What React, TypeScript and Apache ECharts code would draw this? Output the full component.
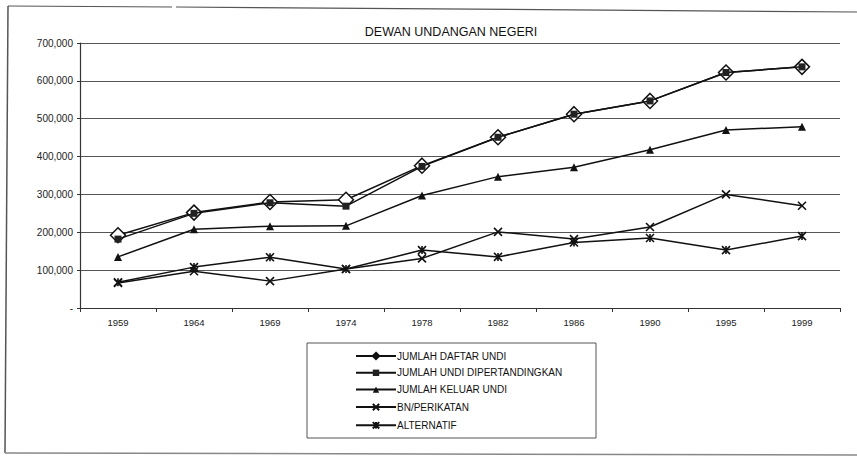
import React, { useEffect, useRef } from "react";
import * as echarts from "echarts";

const years = ["1959", "1964", "1969", "1974", "1978", "1982", "1986", "1990", "1995", "1999"];
const jumlahDaftarUndi = [192000, 252000, 280000, 286000, 376000, 451000, 512000, 547000, 622000, 637000];
const jumlahUndiDipertandingkan = [182000, 250000, 278000, 269000, 374000, 451000, 512000, 547000, 622000, 637000];
const jumlahKeluarUndi = [135000, 208000, 216000, 217000, 297000, 347000, 372000, 418000, 470000, 479000];
const bnPerikatan = [66000, 97000, 71000, 103000, 131000, 201000, 182000, 214000, 300000, 270000];
const alternatif = [68000, 108000, 134000, 103000, 153000, 135000, 173000, 185000, 153000, 190000];

const seriesNames = [
  "JUMLAH DAFTAR UNDI",
  "JUMLAH UNDI DIPERTANDINGKAN",
  "JUMLAH KELUAR UNDI",
  "BN/PERIKATAN",
  "ALTERNATIF",
];

const FONT = "Liberation Sans, Arial, sans-serif";
const X_SYMBOL = "path://M0,0L10,10M10,0L0,10";
const STAR_SYMBOL = "path://M0,0L10,10M10,0L0,10M5,0L5,10";

export default function App() {
  const ref = useRef<HTMLDivElement>(null);

  useEffect(() => {
    if (!ref.current) return;
    const chart = echarts.init(ref.current, null, { renderer: "svg" });
    const lineStyle = { color: "#111", width: 1.5 };
    const mk = (name: string, data: number[], symbol: string, size: number, itemStyle: any, z: number) => ({
      name,
      type: "line",
      data,
      symbol,
      symbolSize: size,
      showAllSymbol: true,
      lineStyle,
      itemStyle,
      z,
    });
    chart.setOption({
      animation: false,
      backgroundColor: "#ffffff",
      title: {
        text: "DEWAN UNDANGAN NEGERI",
        left: 446,
        top: 20,
        textAlign: "center",
        textStyle: { fontFamily: FONT, fontSize: 12.5, fontWeight: "normal", color: "#111" },
      },
      grid: { left: 80, right: 17, top: 43, bottom: 148 },
      xAxis: {
        type: "category",
        data: years,
        boundaryGap: true,
        axisLine: { lineStyle: { color: "#333", width: 1.2 } },
        axisTick: { show: true, alignWithLabel: false, length: 4, lineStyle: { color: "#333" } },
        axisLabel: { fontFamily: FONT, fontSize: 9.5, color: "#222", margin: 9 },
      },
      yAxis: {
        type: "value",
        min: 0,
        max: 700000,
        interval: 100000,
        axisLine: { show: true, lineStyle: { color: "#333", width: 1.2 } },
        axisTick: { show: true, length: 3, lineStyle: { color: "#333" } },
        axisLabel: {
          fontFamily: FONT,
          fontSize: 10,
          color: "#222",
          margin: 7,
          formatter: (v: number) => (v === 0 ? "-" : v.toLocaleString("en-US")),
        },
        splitLine: { show: true, lineStyle: { color: "#555", width: 1 } },
      },
      legend: {
        orient: "vertical",
        left: 350,
        top: 346,
        itemWidth: 40,
        itemHeight: 8,
        itemGap: 6.8,
        data: [
          { name: seriesNames[0], itemStyle: { color: "#111", borderColor: "#111" } },
          seriesNames[1],
          seriesNames[2],
          seriesNames[3],
          seriesNames[4],
        ],
        textStyle: { fontFamily: FONT, fontSize: 10, color: "#111", padding: [0, 0, 0, -4] },
      },
      graphic: [
        {
          type: "rect",
          shape: { x: 307, y: 343, width: 289, height: 95 },
          style: { fill: "none", stroke: "#555", lineWidth: 1 },
          silent: true,
        },
        { type: "line", shape: { x1: 8, y1: 6, x2: 172, y2: 7 }, style: { stroke: "#555", lineWidth: 1.2 }, silent: true },
        { type: "line", shape: { x1: 176, y1: 7, x2: 857, y2: 12 }, style: { stroke: "#555", lineWidth: 1.2 }, silent: true },
        { type: "line", shape: { x1: 8, y1: 6, x2: 5, y2: 453 }, style: { stroke: "#555", lineWidth: 1.5 }, silent: true },
        { type: "line", shape: { x1: 5, y1: 453, x2: 857, y2: 455 }, style: { stroke: "#888", lineWidth: 1.5 }, silent: true },
      ],
      series: [
        mk(seriesNames[0], jumlahDaftarUndi, "diamond", 15, { color: "#ffffff", borderColor: "#111", borderWidth: 1.5 }, 3),
        mk(seriesNames[1], jumlahUndiDipertandingkan, "rect", 7, { color: "#222", borderColor: "#222", borderWidth: 0 }, 4),
        mk(seriesNames[2], jumlahKeluarUndi, "triangle", 8, { color: "#111", borderColor: "#111", borderWidth: 0 }, 3),
        mk(seriesNames[3], bnPerikatan, X_SYMBOL, 8, { color: "none", borderColor: "#111", borderWidth: 1.6 }, 3),
        mk(seriesNames[4], alternatif, STAR_SYMBOL, 8, { color: "none", borderColor: "#111", borderWidth: 1.6 }, 3),
      ],
    });
    return () => chart.dispose();
  }, []);

  return (
    <div
      ref={ref}
      style={{ position: "fixed", left: 0, top: 0, width: 857, height: 456, background: "#fff" }}
    />
  );
}
